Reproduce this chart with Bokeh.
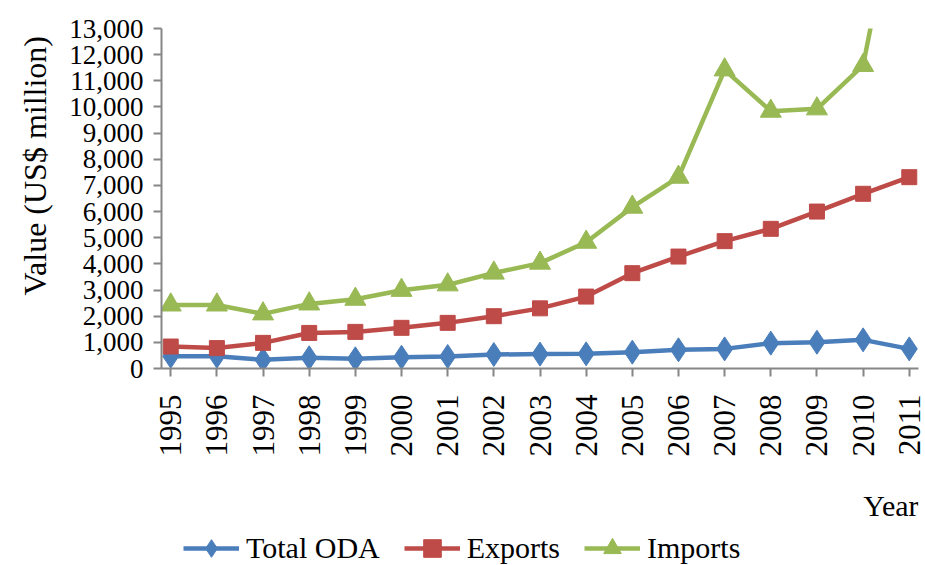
import math
from bokeh.plotting import figure
from bokeh.layouts import column
from bokeh.models import Legend, LegendItem, Title, Label, Range1d, FixedTicker, NumeralTickFormatter
from bokeh.embed import file_html
from bokeh.resources import INLINE

years = list(range(1995, 2012))
year_labels = [str(y) for y in years]
total_oda = [470, 470, 330, 410, 370, 430, 460, 535, 550, 560, 625, 715, 750, 970, 1005, 1095, 750]
exports = [840, 780, 980, 1360, 1400, 1555, 1745, 2000, 2300, 2750, 3645, 4280, 4870, 5340, 6000, 6680, 7315]
imports = [2430, 2430, 2090, 2470, 2650, 2990, 3200, 3650, 4030, 4830, 6170, 7315, 11420, 9840, 9930, 11590, 20500]
y_ticks = list(range(0, 13001, 1000))
series_names = ["Total ODA", "Exports", "Imports"]

FONT = "Liberation Serif"
BLUE = "#4A7EBB"
RED = "#BE4B48"
GREEN = "#98B954"
AXIS = "#868686"

p = figure(width=925, height=470, output_backend="svg", toolbar_location=None,
           x_range=Range1d(1994.8, 2011.2), y_range=Range1d(0, 13000),
           min_border_left=160, min_border_right=7, min_border_top=28, min_border_bottom=102)
p.outline_line_color = None
p.xgrid.visible = False
p.ygrid.visible = False
p.background_fill_color = "white"
p.border_fill_color = "white"

# y axis
p.yaxis.ticker = FixedTicker(ticks=y_ticks)
p.yaxis.formatter = NumeralTickFormatter(format="0,0")
p.yaxis.major_label_text_font = FONT
p.yaxis.major_label_text_font_size = "27px"
p.yaxis.major_label_text_color = "black"
p.yaxis.axis_line_color = AXIS
p.yaxis.axis_line_width = 2
p.yaxis.major_tick_line_color = AXIS
p.yaxis.major_tick_line_width = 2
p.yaxis.major_tick_out = 8
p.yaxis.major_tick_in = 0
p.yaxis.minor_tick_line_color = None
p.yaxis.major_label_standoff = 10

# x axis
p.xaxis.ticker = FixedTicker(ticks=years)
p.xaxis.major_label_overrides = {y: s for y, s in zip(years, year_labels)}
p.xaxis.major_label_orientation = math.pi / 2
p.xaxis.major_label_text_font = FONT
p.xaxis.major_label_text_font_size = "31px"
p.xaxis.major_label_text_color = "black"
p.xaxis.axis_line_color = AXIS
p.xaxis.axis_line_width = 2
p.xaxis.major_tick_line_color = AXIS
p.xaxis.major_tick_line_width = 2
p.xaxis.major_tick_out = 8
p.xaxis.major_tick_in = 0
p.xaxis.minor_tick_line_color = None
p.xaxis.major_label_standoff = 18

styles = [(BLUE, "diamond", 24), (RED, "square", 15), (GREEN, "triangle", 21)]
all_series = [total_oda, exports, imports]
for vals, (color, marker, size) in zip(all_series, styles):
    p.line(years, vals, line_color=color, line_width=4.5)
    p.scatter(years, vals, marker=marker, size=size, fill_color=color, line_color=color)

y_title = Title(text="Value (US$ million)", align="left", offset=73, standoff=28,
                text_font=FONT, text_font_size="32px", text_font_style="normal",
                text_color="black")
p.add_layout(y_title, "left")

# lower strip: axis title and legend (its frame is aligned with the chart frame)
p2 = figure(width=925, height=95, output_backend="svg", toolbar_location=None,
            x_range=Range1d(0, 1), y_range=Range1d(0, 1),
            x_axis_type=None, y_axis_type=None,
            min_border_left=0, min_border_right=0, min_border_top=0, min_border_bottom=0)
p2.outline_line_color = None
p2.xgrid.visible = False
p2.ygrid.visible = False
p2.background_fill_color = "white"
p2.border_fill_color = "white"

items = []
for name, vals, (color, marker, size) in zip(series_names, all_series, styles):
    # same data; it lies outside this strip's ranges, so only the legend keys show
    l = p2.line(years, vals, line_color=color, line_width=4.5)
    s = p2.scatter(years, vals, marker=marker, size=size, fill_color=color, line_color=color)
    items.append(LegendItem(label=name, renderers=[l, s]))

legend = Legend(items=items, orientation="horizontal", location=(22, -5),
                label_text_font=FONT, label_text_font_size="30px", label_text_color="black",
                glyph_width=56, glyph_height=44, label_standoff=7, spacing=24,
                padding=0, margin=0, background_fill_alpha=0, border_line_color=None)
p2.add_layout(legend, "center")

p2.add_layout(Label(x=757, y=60, x_units="screen", y_units="screen", text="Year",
                    text_font=FONT, text_font_size="30px", text_align="right",
                    text_baseline="middle", text_color="black"))

layout = column(p, p2, spacing=0)
open("out.html", "w").write(file_html(layout, INLINE))
